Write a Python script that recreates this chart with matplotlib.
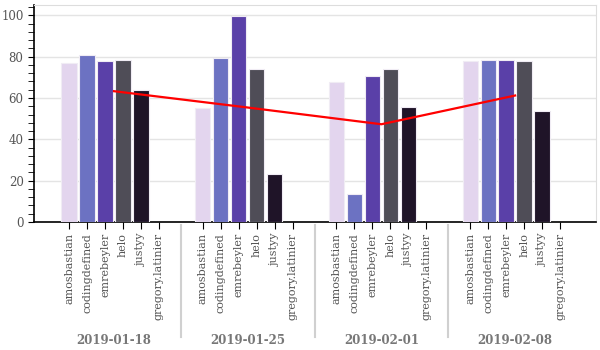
import matplotlib
matplotlib.use("Agg")
import matplotlib.pyplot as plt
from matplotlib.ticker import MultipleLocator
import numpy as np

dates = ["2019-01-18", "2019-01-25", "2019-02-01", "2019-02-08"]
users = ["amosbastian", "codingdefined", "emrebeyler", "helo", "justyy", "gregory.latinier"]
amosbastian = [77.1, 55.0, 67.9, 77.8]
codingdefined = [80.7, 79.3, 13.7, 78.5]
emrebeyler = [78.1, 99.8, 70.7, 78.5]
helo = [78.6, 73.8, 74.1, 78.1]
justyy = [63.9, 23.1, 55.7, 53.6]
gregory_latinier = [0, 0, 0, 0]
average_line = [63.3, 55.4, 47.3, 61.2]

series = [amosbastian, codingdefined, emrebeyler, helo, justyy, gregory_latinier]
colors = ["#e3d5ee", "#6c72c2", "#5a40a8", "#4f4d57", "#1f1428", "#1f1428"]

plt.rcParams["font.family"] = "DejaVu Serif"
fig = plt.figure(figsize=(6, 3.5), dpi=100)
ax = fig.add_axes([0.0567, 0.3657, 0.9366, 0.62])

stride = 7.44
n = len(users)
ticks, labels = [], []
for gi in range(len(dates)):
    for ui in range(n):
        x = gi * stride + ui
        v = series[ui][gi]
        ax.bar(x, v, width=0.85, color=colors[ui], edgecolor="#f0ecf4",
               linewidth=0.8 if v > 0 else 0, zorder=3)
        ticks.append(x)
        labels.append(users[ui])

centers = [gi * stride + 2.5 for gi in range(len(dates))]
ax.plot(centers, average_line, color="red", linewidth=1.6, zorder=4)

ax.set_xlim(-1.95, 3 * stride + 5 + 2.0)
ax.set_ylim(0, 105)
ax.set_xticks(ticks)
ax.set_xticklabels(labels, rotation=90, fontsize=8, color="#555555")
ax.yaxis.set_major_locator(MultipleLocator(20))
ax.yaxis.set_minor_locator(MultipleLocator(4))
ax.tick_params(axis="y", which="both", length=4, colors="black", labelcolor="#555555", labelsize=8.5)
ax.tick_params(axis="x", length=5, pad=3)
ax.grid(axis="y", color="#e4e4e4", linewidth=1, zorder=0)

for s in ["top", "right"]:
    ax.spines[s].set_color("#dddddd")
for s in ["left", "bottom"]:
    ax.spines[s].set_color("black")
    ax.spines[s].set_linewidth(1.2)

for gi, d in enumerate(dates):
    ax.annotate(d, xy=(centers[gi], 0), xycoords=("data", "axes fraction"),
                xytext=(0, -85), textcoords="offset points", ha="center", va="center",
                fontsize=8.5, fontweight="bold", color="#777777", annotation_clip=False)
for gi in range(1, len(dates)):
    xs = gi * stride - (stride - 5) / 2
    ax.plot([xs, xs], [-0.015, -0.53], transform=ax.get_xaxis_transform(),
            color="#d0d0d0", linewidth=1.5, clip_on=False)

fig.savefig("out.png", dpi=100)
